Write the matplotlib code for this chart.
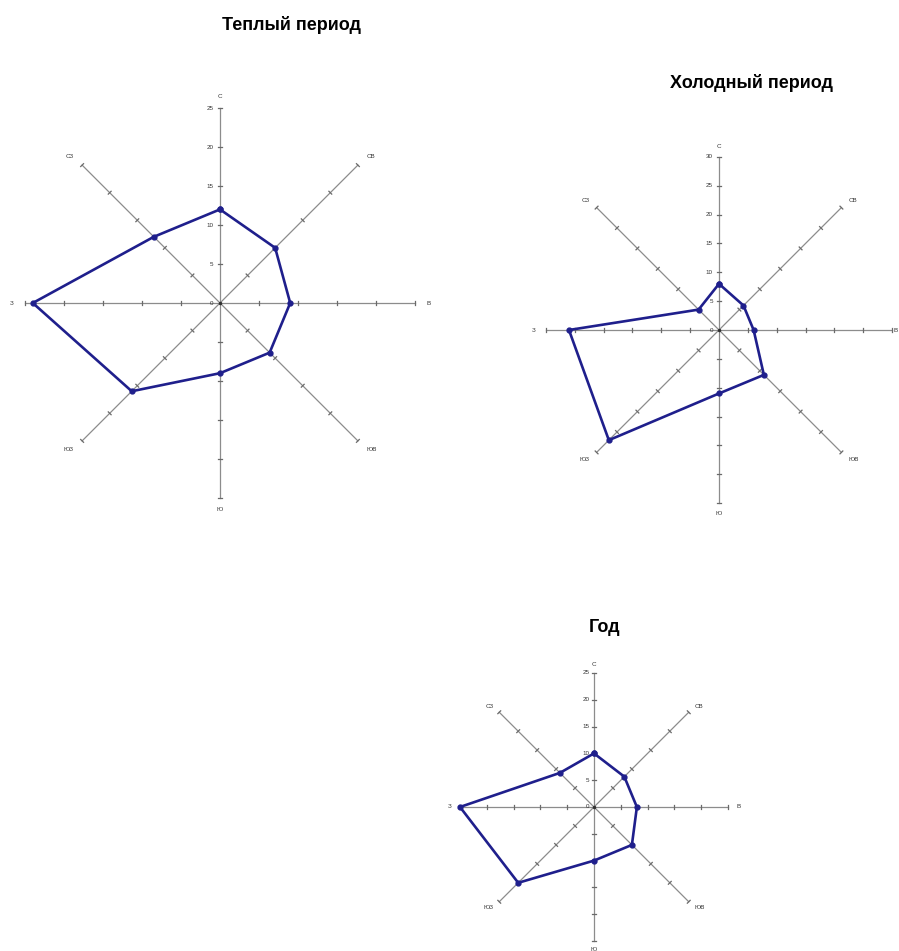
import numpy as np
import matplotlib
matplotlib.use('Agg')
from matplotlib import pyplot as plt

plt.rcParams['font.family'] = ['Liberation Sans', 'DejaVu Sans']

directions = ['С', 'СВ', 'В', 'ЮВ', 'Ю', 'ЮЗ', 'З', 'СЗ']
angles_deg = [90, 45, 0, -45, -90, -135, 180, 135]

warm = [12, 10, 9, 9, 9, 16, 24, 12]
cold = [8, 6, 6, 11, 11, 27, 26, 5]
year = [10, 8, 8, 10, 10, 20, 25, 9]

warm_ticks = [0, 5, 10, 15, 20, 25]
cold_ticks = [0, 5, 10, 15, 20, 25, 30]
year_ticks = [0, 5, 10, 15, 20, 25]

W, H = 899, 951
LINE = '#1f1f8c'
AXC = '#8c8c8c'

fig = plt.figure(figsize=(W / 100, H / 100), dpi=100)


def rose(cx, cy, scale, ticks, values, title, title_xy):
    rmax = ticks[-1]
    L = rmax * 1.12
    size = 2 * L * scale
    ax = fig.add_axes([(cx - size / 2) / W, 1 - (cy + size / 2) / H, size / W, size / H])
    ax.set_xlim(-L, L)
    ax.set_ylim(-L, L)
    ax.set_aspect('equal')
    ax.axis('off')

    th = np.radians(angles_deg)
    tl = 2.0 / scale  # half tick length in data units (about 2 px)
    for a in th:
        ux, uy = np.cos(a), np.sin(a)
        ax.plot([0, rmax * ux], [0, rmax * uy], color=AXC, lw=0.9, zorder=1)
        for t in ticks[1:]:
            px, py = t * ux, t * uy
            ax.plot([px - tl * uy, px + tl * uy],
                    [py + tl * ux, py - tl * ux], color='#6a6a6a', lw=0.9, zorder=1)
    # tick labels on the north axis
    for t in ticks:
        ax.text(-rmax * 0.035, t, str(t), ha='right', va='center', fontsize=4.5, color='#333333')
    # direction labels
    off = rmax * 1.06
    for a, name in zip(th, directions):
        ux, uy = np.cos(a), np.sin(a)
        ha = 'center'
        if ux > 0.1:
            ha = 'left'
        elif ux < -0.1:
            ha = 'right'
        fx = cx + off * ux * scale
        if fx > W - 6:
            fig.text((W - 1) / W, 1 - cy / H, name, ha='right', va='center',
                     fontsize=4.5, color='#333333')
            continue
        ax.text(off * ux, off * uy, name, ha=ha, va='center', fontsize=4.5, color='#333333')

    v = np.array(values + values[:1], dtype=float)
    a2 = np.append(th, th[0])
    ax.plot(v * np.cos(a2), v * np.sin(a2), color=LINE, lw=1.9, marker='o', ms=3.5, zorder=3)
    ax.plot([0], [0], marker='o', ms=1.5, color='#303030', zorder=2)

    fig.text(title_xy[0] / W, 1 - title_xy[1] / H, title, ha='center', va='center',
             fontsize=13, fontweight='bold')


rose(220, 303, 7.8, warm_ticks, warm, 'Теплый период', (292, 25))
rose(719, 330, 5.77, cold_ticks, cold, 'Холодный период', (751, 83))
rose(594, 807, 5.36, year_ticks, year, 'Год', (605, 628))

fig.savefig('out.png', dpi=100)
